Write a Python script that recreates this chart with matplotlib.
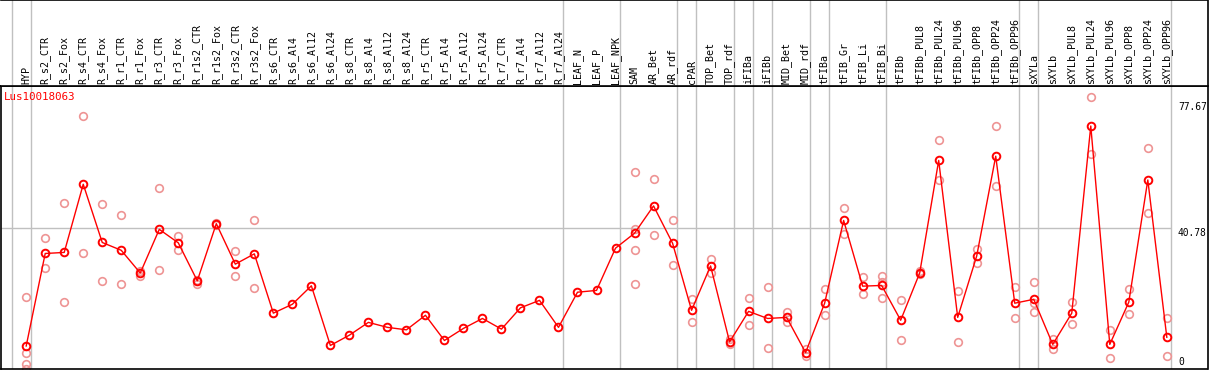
import numpy as np
import matplotlib
matplotlib.use('Agg')
import matplotlib.pyplot as plt

# sample names along the x axis
samples = ['HYP', 'R_s2_CTR', 'R_s2_Fox', 'R_s4_CTR', 'R_s4_Fox', 'R_r1_CTR', 'R_r1_Fox',
           'R_r3_CTR', 'R_r3_Fox', 'R_r1s2_CTR', 'R_r1s2_Fox', 'R_r3s2_CTR', 'R_r3s2_Fox',
           'R_s6_CTR', 'R_s6_Al4', 'R_s6_Al12', 'R_s6_Al24', 'R_s8_CTR', 'R_s8_Al4', 'R_s8_Al12',
           'R_s8_Al24', 'R_r5_CTR', 'R_r5_Al4', 'R_r5_Al12', 'R_r5_Al24', 'R_r7_CTR', 'R_r7_Al4',
           'R_r7_Al12', 'R_r7_Al24', 'LEAF_N', 'LEAF_P', 'LEAF_NPK', 'SAM', 'AR_Bet', 'AR_rdf',
           'cPAR', 'TOP_Bet', 'TOP_rdf', 'iFIBa', 'iFIBb', 'MID_Bet', 'MID_rdf', 'tFIBa',
           'tFIB_Gr', 'tFIB_Li', 'tFIB_Bi', 'tFIBb', 'tFIBb_PUL8', 'tFIBb_PUL24', 'tFIBb_PUL96',
           'tFIBb_OPP8', 'tFIBb_OPP24', 'tFIBb_OPP96', 'sXYLa', 'sXYLb', 'sXYLb_PUL8',
           'sXYLb_PUL24', 'sXYLb_PUL96', 'sXYLb_OPP8', 'sXYLb_OPP24', 'sXYLb_OPP96']

# mean expression per sample
means = [7.55, 33.6, 33.9, 53.1, 36.7, 34.5, 28.1, 40.4, 36.6, 25.9,
         42.0, 30.6, 33.5, 16.8, 19.3, 24.5, 7.7, 10.6, 14.2, 12.8,
         12.1, 16.2, 9.1, 12.5, 15.3, 12.3, 18.3, 20.4, 12.8, 22.7,
         23.2, 35.1, 39.3, 47.0, 36.5, 17.6, 30.1, 8.7, 17.3, 15.3,
         15.6, 5.7, 19.6, 42.9, 24.4, 24.6, 14.8, 28.1, 59.8, 15.6,
         32.9, 61.0, 19.6, 20.7, 8.0, 16.8, 69.5, 8.0, 19.9, 54.3, 10.0]

# replicate values (empty = only the mean is visible)
reps = [[21.3, 5.5, 2.5, 1.2], [37.9, 29.4], [47.7, 19.9], [72.2, 33.7], [47.5, 25.8],
        [44.4, 24.9], [28.6, 27.4], [52.0, 28.9], [38.5, 34.5], [26.1, 25.1],
        [42.3, 41.7], [34.2, 27.2], [43.0, 23.8],
        [], [], [], [], [], [], [], [], [], [], [], [], [], [], [], [], [], [], [],
        [56.5, 40.6, 34.6, 24.9], [54.5, 38.9], [43.0, 30.4], [20.7, 14.2], [32.0, 28.0],
        [9.4, 8.0], [21.2, 13.6], [24.1, 6.9], [17.1, 14.2], [6.8, 4.6], [23.7, 16.2],
        [46.3, 39.2], [27.0, 22.3], [27.2, 25.6, 21.0], [20.4, 9.2], [28.8, 27.7],
        [65.5, 54.2], [22.9, 8.6], [34.9, 31.0], [69.4, 52.7], [24.1, 15.3],
        [25.5, 19.7, 17.0], [9.4, 6.8], [19.9, 13.7], [77.67, 61.5], [12.1, 4.1],
        [23.5, 16.5], [63.2, 44.9], [15.3, 4.6]]

# last sample of each group (-1 = left edge line)
group_ends = [-1, 0, 28, 31, 34, 35, 37, 38, 39, 41, 42, 45, 52, 53, 60]
gene = 'Lus10018063'
ref_lines = [40.78]
ytick_labels = ['77.67', '40.78', '0']

W, H = 1209, 370
fig = plt.figure(figsize=(W / 100, H / 100), dpi=100)
fnt = 'DejaVu Sans Mono'
grey = '#c0c0c0'

x = np.arange(len(samples))
xl = (-1.3256, 62.14)

# plot area
ax = fig.add_axes([1 / W, 1 / H, 1206.5 / W, 283 / H])
ax.set_xlim(xl)
ax.set_ylim(1.07, 80.77)
ax.set_xticks([])
ax.set_yticks([])
for s in ax.spines.values():
    s.set_color('black')
    s.set_linewidth(1.2)

for g in group_ends:
    ax.axvline(g + 0.237, color=grey, lw=1, zorder=1)
for r in ref_lines:
    ax.hlines(r, xl[0], group_ends[-1] + 0.237, color=grey, lw=1, zorder=1)

for i, vals in enumerate(reps):
    if vals:
        ax.plot([i] * len(vals), vals, 'o', ms=5.5, mfc='none', mec='#ee9494', mew=1.2, zorder=2)
ax.plot(x, means, '-', color='red', lw=1, zorder=3)
ax.plot(x, means, 'o', ms=5.5, mfc='none', mec='red', mew=1.4, zorder=4)

# label strip
axl = fig.add_axes([1 / W, 284 / H, 1206.5 / W, 86 / H])
axl.set_xlim(xl)
axl.set_ylim(0, 1)
axl.set_xticks([])
axl.set_yticks([])
axl.spines['left'].set_visible(False)
for k in ['top', 'bottom', 'right']:
    axl.spines[k].set_linewidth(1.2)
for g in group_ends:
    axl.axvline(g + 0.237, color=grey, lw=1)
for i, name in enumerate(samples):
    axl.text(i, 0.025, name, rotation=90, ha='center', va='bottom',
             fontsize=7.2, family=fnt)

fig.text(4 / W, 1 - 97 / H, gene, color='red', fontsize=7.8, family=fnt,
         ha='left', va='center')
for lab, yp in zip(ytick_labels, [107, 233, 362]):
    fig.text(1178 / W, 1 - yp / H, lab, fontsize=6.9, family=fnt, ha='left', va='center')

fig.savefig('out.png', dpi=100)
